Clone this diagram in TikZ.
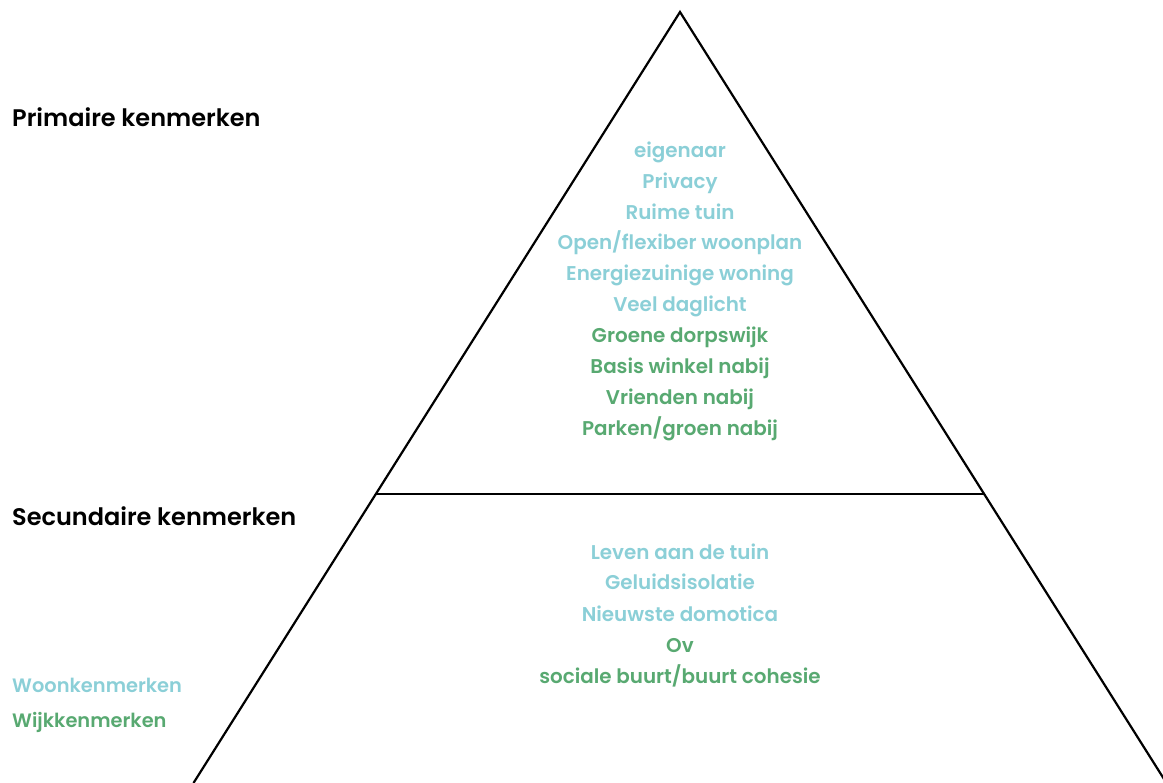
\documentclass[tikz,border=0pt]{standalone}
\usepackage{fontspec}
\setmainfont{Poppins}[BoldFont={Poppins SemiBold}]
\definecolor{woon}{HTML}{8BCFD7}
\definecolor{wijk}{HTML}{58A971}
\begin{document}
\begin{tikzpicture}[x=1pt,y=-1pt,
  heading/.style={anchor=base west,font=\bfseries\fontsize{24}{26}\selectfont,text=black,inner sep=0pt},
  item/.style={anchor=base,font=\bfseries\fontsize{19.9}{22}\selectfont,inner sep=0pt},
  legend/.style={anchor=base west,font=\bfseries\fontsize{19.4}{22}\selectfont,inner sep=0pt},
  edge/.style={line width=2.2pt,black}]
\useasboundingbox (0,0) rectangle (1163,783);
% pyramid outline and divider
\begin{scope}
\clip (0,0) rectangle (1163,783);
\coordinate (apex) at (680,12);
\coordinate (bl) at (193.5,783);
\coordinate (br) at (1166.5,783);
\coordinate (dl) at (376,494);
\coordinate (dr) at (985,494);
\draw[edge,line join=miter] (bl) -- (apex) -- (br);
\draw[edge] (dl) -- (dr);
\end{scope}
% level titles
\node[heading] (prim) at (12,127) {Primaire kenmerken};
\node[heading] (sec) at (12,526) {Secundaire kenmerken};
% primary characteristics
\node[item,text=woon] (p1) at (680,158) {eigenaar};
\node[item,text=woon] (p2) at (680,189) {Privacy};
\node[item,text=woon] (p3) at (680,220) {Ruime tuin};
\node[item,text=woon] (p4) at (680,250) {Open/flexiber woonplan};
\node[item,text=woon] (p5) at (680,281) {Energiezuinige woning};
\node[item,text=woon] (p6) at (680,312) {Veel daglicht};
\node[item,text=wijk] (p7) at (680,343) {Groene dorpswijk};
\node[item,text=wijk] (p8) at (680,374) {Basis winkel nabij};
\node[item,text=wijk] (p9) at (680,405) {Vrienden nabij};
\node[item,text=wijk] (p10) at (680,436) {Parken/groen nabij};
% secondary characteristics
\node[item,text=woon] (s1) at (680,559) {Leven aan de tuin};
\node[item,text=woon] (s2) at (680,590) {Geluidsisolatie};
\node[item,text=woon] (s3) at (680,621) {Nieuwste domotica};
\node[item,text=wijk] (s4) at (680,652) {Ov};
\node[item,text=wijk] (s5) at (680,683) {sociale buurt/buurt cohesie};
% legend
\node[legend,text=woon] (lw) at (12,692) {Woonkenmerken};
\node[legend,text=wijk] (lk) at (12,727) {Wijkkenmerken};
\end{tikzpicture}
\end{document}
